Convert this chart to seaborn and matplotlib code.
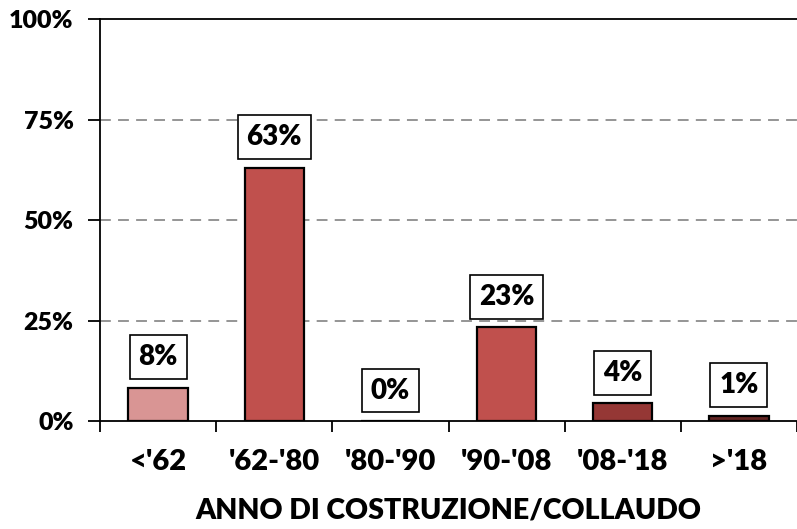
import numpy as np
import pandas as pd
import seaborn as sns
import matplotlib.pyplot as plt
from matplotlib.ticker import FixedLocator

categories = ["<'62", "'62-'80", "'80-'90", "'90-'08", "'08-'18", ">'18"]
values = [8.3, 63.0, 0.0, 23.3, 4.4, 1.3]
labels = ['8%', '63%', '0%', '23%', '4%', '1%']
colors = ['#D99594', '#C0504D', '#C0504D', '#C0504D', '#953735', '#632523']

sns.set_style('white')
plt.rcParams['font.family'] = ['Lato', 'DejaVu Sans']
plt.rcParams['font.weight'] = 'heavy'
plt.rcParams['text.color'] = 'black'
plt.rcParams['xtick.color'] = 'black'
plt.rcParams['ytick.color'] = 'black'
plt.rcParams['axes.labelcolor'] = 'black'

df = pd.DataFrame({'anno': categories, 'quota': values})

fig = plt.figure(figsize=(7.97, 5.29), dpi=100)
ax = fig.add_axes([0.1255, 0.204, 0.8745, 0.76])

sns.barplot(data=df, x='anno', y='quota', hue='anno', palette=colors,
            order=categories, hue_order=categories, legend=False, saturation=1,
            width=0.51, edgecolor='black', linewidth=1.6, ax=ax)

ax.set_xlim(-0.5, len(categories) - 0.5)
ax.set_ylim(0, 100)
ax.set_yticks([0, 25, 50, 75, 100])
ax.set_yticklabels(['0%', '25%', '50%', '75%', '100%'], fontsize=18, fontweight='heavy')
ax.set_xticks(range(len(categories)))
ax.set_xticklabels(categories, fontsize=21, fontweight='heavy')
ax.xaxis.set_minor_locator(FixedLocator(np.arange(-0.5, len(categories), 1.0)))
ax.tick_params(axis='x', which='major', length=0, pad=20)
ax.tick_params(axis='x', which='minor', length=8, width=1.3, color='black', direction='out', bottom=True)
ax.tick_params(axis='y', which='major', length=9, width=1.3, color='black', direction='out', left=True, pad=10)

for y in [25, 50, 75]:
    ax.axhline(y, color='#8c8c8c', linestyle=(0, (6, 4)), linewidth=1.3, zorder=0)

for side in ['left', 'bottom', 'top']:
    ax.spines[side].set_color('black')
    ax.spines[side].set_linewidth(1.3)
ax.spines['right'].set_visible(False)

for i, (v, lab) in enumerate(zip(values, labels)):
    ax.annotate(lab, xy=(i, v), xytext=(0, 22), textcoords='offset points',
                ha='center', va='center', fontsize=20, fontweight='heavy',
                bbox=dict(boxstyle='square,pad=0.32', fc='white', ec='black', lw=1.2))

ax.set_ylabel('')
ax.set_xlabel('ANNO DI COSTRUZIONE/COLLAUDO', fontsize=20.5, fontweight='heavy', labelpad=16)

fig.savefig('out.png', dpi=100)
